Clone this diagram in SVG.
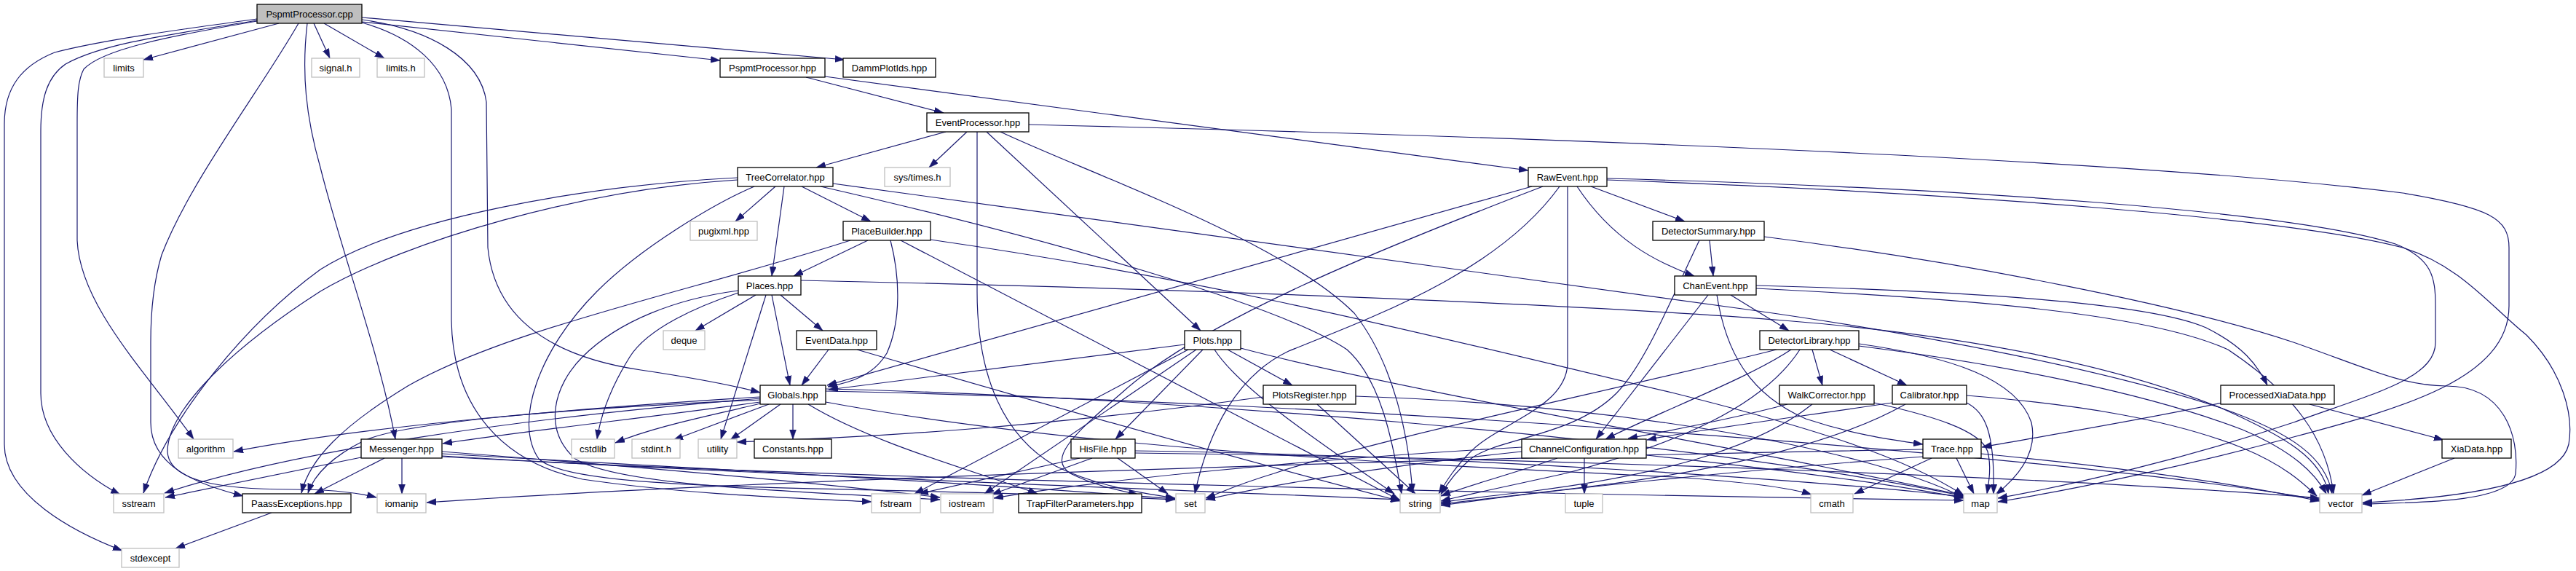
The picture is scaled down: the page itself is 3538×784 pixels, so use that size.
<svg xmlns="http://www.w3.org/2000/svg" width="3538" height="784" viewBox="0 0 3538 784">
<style>
.n rect{fill:#ffffff;stroke:#000000;stroke-width:1.3}
.x rect{fill:#ffffff;stroke:#bfbfbf;stroke-width:1.3}
.r rect{fill:#bfbfbf;stroke:#000000;stroke-width:1.3}
text{font-family:"Liberation Sans",Arial,Helvetica,sans-serif;font-size:13px;text-anchor:middle;fill:#000000}
#edges path{fill:none;stroke:#191970;stroke-width:1.2;marker-end:url(#ah)}
</style>
<defs>
<marker id="ah" markerUnits="userSpaceOnUse" markerWidth="14" markerHeight="10" refX="13" refY="4.5" orient="auto">
<path d="M0,0 L13,4.5 L0,9 z" fill="#191970" stroke="#191970" stroke-width="0.5"/>
</marker>
</defs>
<rect width="3538" height="784" fill="#ffffff"/>
<g id="edges">
<path d="M353,26 C250,40 140,55 75,72 C30,90 6,120 6,170 L6,610 C6,680 100,730 168,756"/>
<path d="M353,28 C230,48 140,60 90,88 C65,105 56,135 56,180 L56,540 C56,600 110,650 165,679"/>
<path d="M353,29 C230,50 140,68 115,95 C107,110 106,130 106,170 L106,330 C110,420 200,510 266,603"/>
<path d="M383,32 L197,82"/>
<path d="M410,32 C360,120 260,250 222,350 C210,390 207,430 207,470 L207,580 C207,640 270,665 334,681"/>
<path d="M422,32 C414,100 420,160 440,230 C470,350 520,480 543,603"/>
<path d="M431,32 L453,80"/>
<path d="M445,32 L528,80"/>
<path d="M497,31 C565,50 615,90 620,150 L620,440 C622,560 690,635 800,658 C950,680 1100,684 1197,689"/>
<path d="M497,27 C590,40 660,80 668,140 L670,340 C680,440 760,490 880,508 C960,520 1010,530 1044,539"/>
<path d="M497,30 L989,83"/>
<path d="M497,24 L1160,82"/>
<path d="M1107,106 L1296,155"/>
<path d="M1133,105 L2099,234"/>
<path d="M1299,181 L1121,230"/>
<path d="M1328,181 L1276,230"/>
<path d="M1342,181 L1342,400 C1342,520 1380,600 1450,640 C1500,665 1560,676 1614,684"/>
<path d="M1355,181 L1649,454"/>
<path d="M1374,181 C1500,240 1760,330 1860,430 C1915,500 1935,600 1940,677"/>
<path d="M1413,171 C2000,185 2900,215 3300,265 C3420,285 3446,300 3446,340 L3446,420 C3446,520 3300,560 3150,600 C3000,640 2850,672 2744,689"/>
<path d="M2185,256 L2314,304"/>
<path d="M2166,256 C2215,330 2275,360 2327,379"/>
<path d="M2153,256 L2153,500 C2150,560 2060,580 2020,620 C1998,642 1987,660 1976,678"/>
<path d="M2104,256 L1136,529"/>
<path d="M2142,256 C2060,370 1900,430 1770,482 C1700,515 1660,590 1641,678"/>
<path d="M2119,256 C1900,340 1650,440 1540,540 C1470,600 1440,630 1470,650 C1500,665 1530,672 1563,679"/>
<path d="M2207,245 C2700,258 3150,290 3290,335 C3340,355 3345,380 3345,420 L3345,470 C3345,520 3260,540 3150,580 C3000,630 2850,665 2744,684"/>
<path d="M2207,247 C2700,265 3150,300 3300,340 C3380,365 3420,420 3470,460 C3520,510 3535,570 3528,610 C3515,670 3350,685 3245,690"/>
<path d="M2348,330 L2353,379"/>
<path d="M2334,330 C2300,400 2260,500 2220,540 C2160,600 2060,600 2020,630 C2002,645 1990,660 1979,679"/>
<path d="M2423,325 C2700,360 3000,420 3150,470 C3250,505 3300,530 3360,530 C3440,530 3460,600 3455,650 C3450,690 3320,690 3245,692"/>
<path d="M2346,405 L2192,603"/>
<path d="M2358,405 C2370,480 2400,540 2480,575 C2540,595 2590,603 2641,610"/>
<path d="M2377,405 L2457,454"/>
<path d="M2412,392 C2700,400 2950,415 3030,450 C3080,475 3100,500 3114,529"/>
<path d="M2412,396 C2700,410 2950,430 3060,480 C3150,540 3195,600 3205,678"/>
<path d="M2440,480 C2200,540 1900,600 1750,650 C1700,665 1680,675 1656,684"/>
<path d="M2460,480 C2400,520 2280,565 2205,603"/>
<path d="M2472,480 C2420,560 2300,610 2150,650 C2060,670 2010,680 1979,688"/>
<path d="M2489,480 L2503,529"/>
<path d="M2513,480 L2619,529"/>
<path d="M2553,472 C2680,490 2770,520 2790,580 C2800,625 2765,660 2741,679"/>
<path d="M2553,475 C2750,500 2950,540 3080,590 C3150,620 3180,650 3195,678"/>
<path d="M2455,555 C2380,575 2290,592 2236,602"/>
<path d="M2489,555 C2420,610 2300,650 2100,675 C2040,682 2000,686 1979,690"/>
<path d="M2574,553 C2650,570 2720,590 2730,620 C2735,640 2732,660 2729,678"/>
<path d="M2599,553 C2450,575 2320,592 2262,604"/>
<path d="M2617,555 C2520,610 2350,650 2150,672 C2060,682 2010,688 1979,692"/>
<path d="M2701,543 C2850,555 2980,575 3080,615 C3140,640 3165,665 3182,681"/>
<path d="M2701,553 C2725,565 2740,590 2738,678"/>
<path d="M2139,629 C2080,650 2020,665 1979,681"/>
<path d="M2176,629 L2176,678"/>
<path d="M2262,625 C2450,645 2600,665 2697,684"/>
<path d="M2090,614 C1800,630 1500,660 1365,684"/>
<path d="M2090,620 C1900,640 1750,665 1656,686"/>
<path d="M2641,617 C2000,628 1000,660 586,690"/>
<path d="M2641,627 C2400,645 2150,670 1979,694"/>
<path d="M2653,629 L2547,678"/>
<path d="M2687,629 L2711,678"/>
<path d="M2721,623 C2900,640 3050,660 3186,688"/>
<path d="M3052,553 C2950,575 2800,600 2722,614"/>
<path d="M3172,555 L3356,604"/>
<path d="M3371,629 L3244,680"/>
<path d="M496,628 L227,683"/>
<path d="M528,629 L432,678"/>
<path d="M552,629 L552,678"/>
<path d="M607,620 C800,635 1100,660 1291,683"/>
<path d="M607,623 C900,640 1300,660 1614,685"/>
<path d="M607,626 C1000,650 1600,672 1923,686"/>
<path d="M607,627 C1200,660 2200,680 2697,687"/>
<path d="M373,704 L241,753"/>
<path d="M1044,545 C800,560 500,585 321,620"/>
<path d="M1044,547 C700,575 400,620 226,677"/>
<path d="M1044,549 C800,560 560,578 500,605 C460,625 432,650 423,677"/>
<path d="M1044,552 C900,572 720,592 608,609"/>
<path d="M1044,554 C980,570 900,585 845,608"/>
<path d="M1056,555 L925,604"/>
<path d="M1072,555 L1003,604"/>
<path d="M1089,555 L1089,603"/>
<path d="M1110,555 C1200,610 1350,650 1425,678"/>
<path d="M1134,552 C1500,620 2000,640 2300,655 C2400,662 2460,670 2488,679"/>
<path d="M1134,534 C1600,545 2300,600 2697,681"/>
<path d="M1134,537 C1800,550 2800,620 3186,686"/>
<path d="M1038,405 L955,454"/>
<path d="M1072,405 L1130,454"/>
<path d="M1060,405 L1085,529"/>
<path d="M1052,405 L990,603"/>
<path d="M1014,402 C960,420 890,450 865,490 C840,530 825,570 820,603"/>
<path d="M1014,399 C930,410 850,440 800,490 C760,530 745,590 790,630 C850,668 1100,675 1291,686"/>
<path d="M1100,385 C1700,398 2200,420 2450,440 C2700,460 2900,500 3050,560 C3140,600 3190,630 3198,678"/>
<path d="M1138,480 L1101,529"/>
<path d="M1177,480 C1450,560 1700,630 1923,688"/>
<path d="M1627,473 L1138,535"/>
<path d="M1632,480 L1256,678"/>
<path d="M1643,480 L1352,678"/>
<path d="M1652,480 L1532,603"/>
<path d="M1668,480 C1700,530 1800,600 1915,678"/>
<path d="M1686,480 L1775,529"/>
<path d="M1704,478 C1900,530 2300,600 2500,640 C2600,660 2660,672 2697,680"/>
<path d="M1809,555 L1944,678"/>
<path d="M1862,544 C2200,555 2550,610 2697,683"/>
<path d="M1735,545 C1419,588 1200,600 1012,607"/>
<path d="M1483,629 L1262,678"/>
<path d="M1500,629 L1362,679"/>
<path d="M1535,629 L1604,678"/>
<path d="M1559,619 C2000,625 2500,660 2697,682"/>
<path d="M1559,622 C2200,630 2900,660 3186,684"/>
<path d="M1013,244 C800,255 550,300 440,370 C330,450 230,580 197,677"/>
<path d="M1013,247 C800,260 560,330 440,400 C300,490 230,570 230,620 C232,660 300,672 400,672 C450,672 490,676 517,683"/>
<path d="M1036,256 C980,280 880,340 820,400 C740,480 705,580 740,630 C790,680 1200,665 1614,686"/>
<path d="M1065,256 L1010,304"/>
<path d="M1077,256 L1060,379"/>
<path d="M1101,256 L1196,304"/>
<path d="M1144,252 C1600,315 2100,380 2400,425 C2650,460 2900,510 3050,560 C3150,595 3195,630 3203,678"/>
<path d="M1127,256 C1450,330 1760,420 1850,480 C1895,520 1912,600 1925,678"/>
<path d="M1168,330 C950,400 700,450 560,530 C470,585 425,630 414,677"/>
<path d="M1192,330 L1090,379"/>
<path d="M1223,330 C1236,380 1238,440 1218,485 C1200,515 1170,525 1137,531"/>
<path d="M1237,330 L1923,687"/>
<path d="M1278,329 C1700,390 2000,470 2300,540 C2500,590 2620,630 2697,680"/>
</g>
<g id="n-PspmtProcessor-cpp" class="r"><rect x="353" y="6" width="144" height="26"/><text x="425" y="24">PspmtProcessor.cpp</text></g>
<g id="n-limits" class="x"><rect x="143" y="80" width="54" height="26"/><text x="170" y="98">limits</text></g>
<g id="n-signal-h" class="x"><rect x="428" y="80" width="66" height="26"/><text x="461" y="98">signal.h</text></g>
<g id="n-limits-h" class="x"><rect x="518" y="80" width="65" height="26"/><text x="550.5" y="98">limits.h</text></g>
<g id="n-PspmtProcessor-hpp" class="n"><rect x="989" y="80" width="144" height="26"/><text x="1061" y="98">PspmtProcessor.hpp</text></g>
<g id="n-DammPlotIds-hpp" class="n"><rect x="1158" y="80" width="127" height="26"/><text x="1221.5" y="98">DammPlotIds.hpp</text></g>
<g id="n-EventProcessor-hpp" class="n"><rect x="1273" y="155" width="140" height="26"/><text x="1343" y="173">EventProcessor.hpp</text></g>
<g id="n-TreeCorrelator-hpp" class="n"><rect x="1013" y="230" width="131" height="26"/><text x="1078.5" y="248">TreeCorrelator.hpp</text></g>
<g id="n-sys-times-h" class="x"><rect x="1215" y="230" width="90" height="26"/><text x="1260" y="248">sys/times.h</text></g>
<g id="n-RawEvent-hpp" class="n"><rect x="2099" y="230" width="108" height="26"/><text x="2153" y="248">RawEvent.hpp</text></g>
<g id="n-pugixml-hpp" class="x"><rect x="948" y="304" width="92" height="26"/><text x="994" y="322">pugixml.hpp</text></g>
<g id="n-PlaceBuilder-hpp" class="n"><rect x="1158" y="304" width="120" height="26"/><text x="1218" y="322">PlaceBuilder.hpp</text></g>
<g id="n-DetectorSummary-hpp" class="n"><rect x="2270" y="304" width="153" height="26"/><text x="2346.5" y="322">DetectorSummary.hpp</text></g>
<g id="n-Places-hpp" class="n"><rect x="1014" y="379" width="86" height="26"/><text x="1057" y="397">Places.hpp</text></g>
<g id="n-ChanEvent-hpp" class="n"><rect x="2300" y="379" width="112" height="26"/><text x="2356" y="397">ChanEvent.hpp</text></g>
<g id="n-deque" class="x"><rect x="911" y="454" width="57" height="26"/><text x="939.5" y="472">deque</text></g>
<g id="n-EventData-hpp" class="n"><rect x="1094" y="454" width="110" height="26"/><text x="1149" y="472">EventData.hpp</text></g>
<g id="n-Plots-hpp" class="n"><rect x="1627" y="454" width="77" height="26"/><text x="1665.5" y="472">Plots.hpp</text></g>
<g id="n-DetectorLibrary-hpp" class="n"><rect x="2417" y="454" width="136" height="26"/><text x="2485" y="472">DetectorLibrary.hpp</text></g>
<g id="n-Globals-hpp" class="n"><rect x="1044" y="529" width="90" height="26"/><text x="1089" y="547">Globals.hpp</text></g>
<g id="n-PlotsRegister-hpp" class="n"><rect x="1735" y="529" width="127" height="26"/><text x="1798.5" y="547">PlotsRegister.hpp</text></g>
<g id="n-WalkCorrector-hpp" class="n"><rect x="2444" y="529" width="130" height="26"/><text x="2509" y="547">WalkCorrector.hpp</text></g>
<g id="n-Calibrator-hpp" class="n"><rect x="2599" y="529" width="102" height="26"/><text x="2650" y="547">Calibrator.hpp</text></g>
<g id="n-ProcessedXiaData-hpp" class="n"><rect x="3050" y="529" width="156" height="26"/><text x="3128" y="547">ProcessedXiaData.hpp</text></g>
<g id="n-algorithm" class="x"><rect x="245" y="603" width="75" height="26"/><text x="282.5" y="621">algorithm</text></g>
<g id="n-Messenger-hpp" class="n"><rect x="496" y="603" width="111" height="26"/><text x="551.5" y="621">Messenger.hpp</text></g>
<g id="n-cstdlib" class="x"><rect x="785" y="603" width="59" height="26"/><text x="814.5" y="621">cstdlib</text></g>
<g id="n-stdint-h" class="x"><rect x="868" y="603" width="66" height="26"/><text x="901" y="621">stdint.h</text></g>
<g id="n-utility" class="x"><rect x="959" y="603" width="53" height="26"/><text x="985.5" y="621">utility</text></g>
<g id="n-Constants-hpp" class="n"><rect x="1036" y="603" width="106" height="26"/><text x="1089" y="621">Constants.hpp</text></g>
<g id="n-HisFile-hpp" class="n"><rect x="1471" y="603" width="88" height="26"/><text x="1515" y="621">HisFile.hpp</text></g>
<g id="n-ChannelConfiguration-hpp" class="n"><rect x="2090" y="603" width="171" height="26"/><text x="2175.5" y="621">ChannelConfiguration.hpp</text></g>
<g id="n-Trace-hpp" class="n"><rect x="2641" y="603" width="80" height="26"/><text x="2681" y="621">Trace.hpp</text></g>
<g id="n-XiaData-hpp" class="n"><rect x="3354" y="603" width="95" height="26"/><text x="3401.5" y="621">XiaData.hpp</text></g>
<g id="n-sstream" class="x"><rect x="156" y="678" width="69" height="26"/><text x="190.5" y="696">sstream</text></g>
<g id="n-PaassExceptions-hpp" class="n"><rect x="333" y="678" width="149" height="26"/><text x="407.5" y="696">PaassExceptions.hpp</text></g>
<g id="n-iomanip" class="x"><rect x="518" y="678" width="67" height="26"/><text x="551.5" y="696">iomanip</text></g>
<g id="n-fstream" class="x"><rect x="1197" y="678" width="67" height="26"/><text x="1230.5" y="696">fstream</text></g>
<g id="n-iostream" class="x"><rect x="1292" y="678" width="72" height="26"/><text x="1328" y="696">iostream</text></g>
<g id="n-TrapFilterParameters-hpp" class="n"><rect x="1399" y="678" width="169" height="26"/><text x="1483.5" y="696">TrapFilterParameters.hpp</text></g>
<g id="n-set" class="x"><rect x="1615" y="678" width="40" height="26"/><text x="1635" y="696">set</text></g>
<g id="n-string" class="x"><rect x="1923" y="678" width="55" height="26"/><text x="1950.5" y="696">string</text></g>
<g id="n-tuple" class="x"><rect x="2150" y="678" width="51" height="26"/><text x="2175.5" y="696">tuple</text></g>
<g id="n-cmath" class="x"><rect x="2487" y="678" width="58" height="26"/><text x="2516" y="696">cmath</text></g>
<g id="n-map" class="x"><rect x="2697" y="678" width="46" height="26"/><text x="2720" y="696">map</text></g>
<g id="n-vector" class="x"><rect x="3186" y="678" width="58" height="26"/><text x="3215" y="696">vector</text></g>
<g id="n-stdexcept" class="x"><rect x="167" y="753" width="79" height="26"/><text x="206.5" y="771">stdexcept</text></g>
</svg>
